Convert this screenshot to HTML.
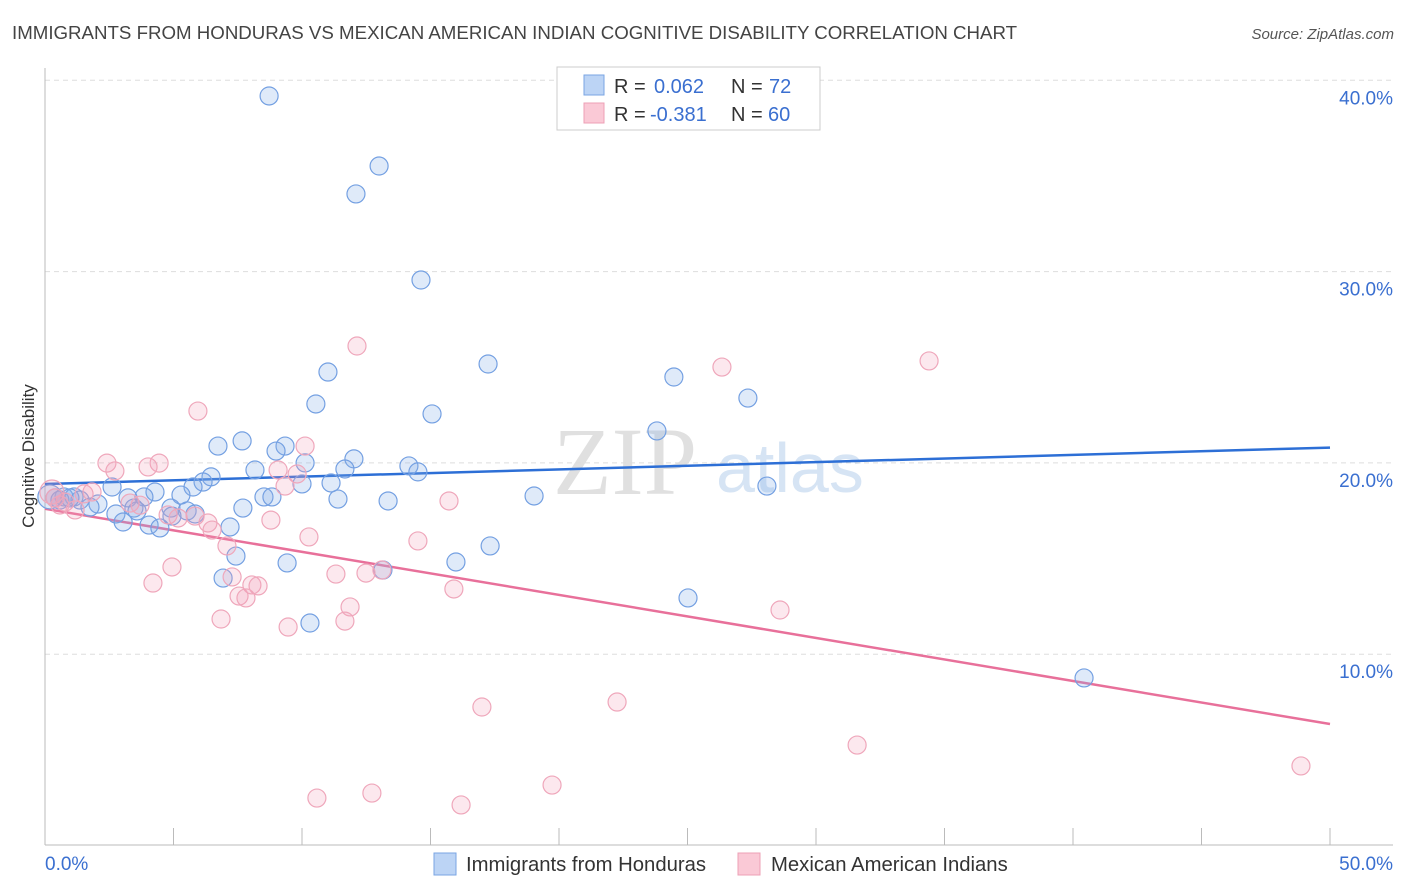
<!DOCTYPE html>
<html><head><meta charset="utf-8"><style>
body{margin:0;background:#fff;font-family:"Liberation Sans",sans-serif;}
#wrap{position:relative;width:1406px;height:892px;overflow:hidden;}
svg{position:absolute;left:0;top:0;}
</style></head><body>
<div id="wrap">
<svg id="chart" width="1406" height="892">
<text x="12" y="39" font-size="18.7" fill="#444">IMMIGRANTS FROM HONDURAS VS MEXICAN AMERICAN INDIAN COGNITIVE DISABILITY CORRELATION CHART</text>
<text x="1394" y="39" font-size="15" fill="#555" font-style="italic" text-anchor="end">Source: ZipAtlas.com</text>
<text transform="translate(34,456) rotate(-90)" font-size="17" fill="#333" text-anchor="middle">Cognitive Disability</text>
<g>
<text x="553" y="494" font-family="Liberation Serif" font-size="96" fill="#e0e0e0">ZIP</text>
<text x="716" y="492" font-size="70" fill="#d6e4f4">atlas</text>
</g>
<g id="grid"></g><g id="axes"></g><g id="lines"></g><g id="pts"></g>
<g>
<rect x="557" y="67" width="263" height="63" fill="#fff" stroke="#ccc"/>
<rect x="584" y="75" width="20" height="20" fill="#bcd4f5" stroke="#7aa5e3"/>
<rect x="584" y="103" width="20" height="20" fill="#fac9d6" stroke="#eda0b6"/>
<text x="614" y="93" font-size="20" fill="#333">R = <tspan x="654" fill="#3a6fd0">0.062</tspan><tspan x="731">N = </tspan><tspan x="769" fill="#3a6fd0">72</tspan></text>
<text x="614" y="121" font-size="20" fill="#333">R = <tspan x="650" fill="#3a6fd0">-0.381</tspan><tspan x="731">N = </tspan><tspan x="768" fill="#3a6fd0">60</tspan></text>
</g>
<g>
<rect x="434" y="853" width="22" height="22" fill="#bcd4f5" stroke="#7aa5e3"/>
<text x="466" y="871" font-size="20.3" fill="#333">Immigrants from Honduras</text>
<rect x="738" y="853" width="22" height="22" fill="#fac9d6" stroke="#eda0b6"/>
<text x="771" y="871" font-size="20.3" fill="#333">Mexican American Indians</text>
</g>
</svg>
</div>
<script>
const yTicks=[10,20,30,40];
const yTickLabels=["10.0%","20.0%","30.0%","40.0%"];
const xTicks=[0,5,10,15,20,25,30,35,40,45,50];
const blueX=[8.72,13.0,12.1,14.63,17.24,24.47,11.01,27.35,10.54,15.06,23.81,7.67,6.73,9.34,8.99,12.02,10.12,14.16,11.67,14.51,8.17,6.46,6.15,5.76,11.13,10.0,28.09,2.61,4.28,5.29,19.03,8.52,8.83,3.85,11.4,13.35,3.23,0.74,1.13,0.39,1.36,2.06,7.7,3.46,4.9,5.53,5.84,2.76,1.75,3.58,4.94,3.04,4.05,4.47,7.2,7.43,9.42,15.99,17.32,13.15,6.93,25.02,10.31,40.43,0.19,0.58,0.97];
const blueY=[39.18,35.52,34.06,29.56,25.17,24.49,24.75,23.39,23.08,22.56,21.67,21.15,20.88,20.88,20.62,20.21,20.0,19.84,19.68,19.53,19.63,19.27,19.0,18.74,18.95,18.9,18.79,18.74,18.48,18.32,18.27,18.22,18.22,18.22,18.11,18.01,18.17,18.22,18.22,18.17,18.06,17.85,17.64,17.64,17.64,17.49,17.33,17.33,17.69,17.49,17.22,16.91,16.75,16.6,16.65,15.13,14.77,14.82,15.66,14.4,13.98,12.94,11.63,8.76,18.22,18.06,18.17];
const pinkX=[12.14,34.4,26.34,5.95,10.12,2.41,4.44,2.72,4.01,9.07,9.81,9.34,15.72,1.52,3.31,3.7,0.78,1.17,1.83,4.79,5.18,5.84,6.34,6.5,8.79,10.27,7.08,14.51,4.94,4.2,7.28,8.05,8.29,11.32,12.49,13.11,7.55,7.82,11.87,15.91,6.85,9.46,11.67,28.6,17.0,22.26,31.6,10.58,12.72,16.19,19.73,48.87,0.39,0.58,0.27];
const pinkY=[26.11,25.33,25.01,22.71,20.88,19.99,19.99,19.58,19.79,19.63,19.42,18.79,18.01,18.38,17.9,17.79,17.95,17.54,18.48,17.28,17.12,17.22,16.86,16.49,17.01,16.13,15.66,15.92,14.56,13.72,14.04,13.62,13.57,14.19,14.24,14.4,13.04,12.94,12.47,13.41,11.84,11.42,11.73,12.31,7.24,7.5,5.25,2.48,2.74,2.12,3.16,4.16,18.17,17.8,18.48];
const blueTrend=[18.9,20.8];
const pinkTrend=[17.6,6.35];
const NS="http://www.w3.org/2000/svg";
const X=v=>45+v*25.7, Y=v=>845.5-v*19.13;
function mk(tag,attrs,parent){const e=document.createElementNS(NS,tag);for(const k in attrs)e.setAttribute(k,attrs[k]);document.getElementById(parent).appendChild(e);return e;}
yTicks.forEach((t,i)=>{
 const g=mk('line',{x1:45,x2:1393,y1:Y(t),y2:Y(t),stroke:'#ddd','stroke-dasharray':'5,4'},'grid');
 
 
 const l=mk('text',{x:1393,y:Y(t)+24,'font-size':19,fill:'#3a6fd0','text-anchor':'end'},'grid');
 l.textContent=yTickLabels[i];
 
 
});
const ax=mk('line',{x1:45,x2:45,y1:68,y2:845,stroke:'#bbb'},'axes');


const bx=mk('line',{x1:45,x2:1393,y1:845,y2:845,stroke:'#bbb'},'axes');


xTicks.forEach(t=>{
 const k=mk('line',{x1:X(t),x2:X(t),y1:828,y2:845,stroke:'#bbb'},'axes');
 
 
});
const x0=mk('text',{x:45,y:870,'font-size':19,fill:'#3a6fd0'},'axes');x0.textContent='0.0%';


const x1=mk('text',{x:1393,y:870,'font-size':19,fill:'#3a6fd0','text-anchor':'end'},'axes');x1.textContent='50.0%';


function pts(xs,ys,fill,stroke,name){
 xs.forEach((v,i)=>{
  const r=(v<0.3)?12:9;
  const c=mk('circle',{cx:X(v),cy:Y(ys[i]),r:r,fill:fill,stroke:stroke,'stroke-width':1.2},'pts');
  
  
 });
}
pts(blueX,blueY,'rgba(130,172,232,0.26)','#74a0e2','honduras-point');
pts(pinkX,pinkY,'rgba(242,160,185,0.24)','#efa7bb','mexican-american-indian-point');
const bl=mk('line',{x1:X(0),x2:X(50),y1:Y(blueTrend[0]),y2:Y(blueTrend[1]),stroke:'#2d6fd6','stroke-width':2.5},'lines');


const pl=mk('line',{x1:X(0),x2:X(50),y1:Y(pinkTrend[0]),y2:Y(pinkTrend[1]),stroke:'#e8709a','stroke-width':2.5},'lines');


</script>
</body></html>
